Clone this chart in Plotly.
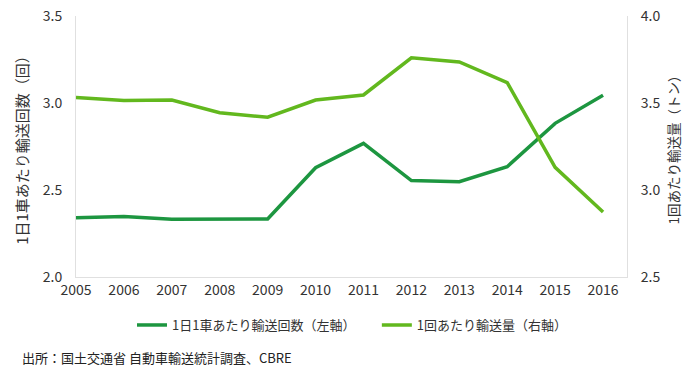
import plotly.graph_objects as go

years = list(range(2005, 2017))
trips_per_day = [2.341, 2.347, 2.332, 2.335, 2.333, 2.628, 2.768, 2.554, 2.548, 2.634, 2.883, 3.044]
tons_per_trip = [3.531, 3.515, 3.517, 3.444, 3.418, 3.517, 3.546, 3.760, 3.736, 3.617, 3.130, 2.874]

name_left = "1日1車あたり輸送回数（左軸）"
name_right = "1回あたり輸送量（右軸）"
title_left = "1日1車あたり輸送回数（回）"
title_right = "1回あたり輸送量（トン）"
source = "出所：国土交通省 自動車輸送統計調査、CBRE"

FONT = "Noto Sans CJK JP"
dark = "#1d9640"
light = "#62b81e"

fig = go.Figure()
fig.add_trace(go.Scatter(x=years, y=trips_per_day, name=name_left, mode="lines",
                         line=dict(color=dark, width=3.5), yaxis="y", legend="legend"))
fig.add_trace(go.Scatter(x=years, y=tons_per_trip, name=name_right, mode="lines",
                         line=dict(color=light, width=3.5), yaxis="y2", legend="legend2"))

leg_common = dict(orientation="h", yanchor="middle", y=-0.184, xanchor="left",
                  font=dict(size=13, color="#333333"), itemwidth=30,
                  bgcolor="rgba(0,0,0,0)")

fig.update_layout(
    width=700, height=374,
    margin=dict(l=76, r=73, t=16, b=97, autoexpand=False),
    paper_bgcolor="white", plot_bgcolor="white",
    font=dict(family=FONT, size=13, color="#333333"),
    showlegend=True,
    legend=dict(x=0.1016, **leg_common),
    legend2=dict(x=0.546, **leg_common),
    xaxis=dict(range=[2005, 2016.5], tickmode="array", tickvals=years,
               ticktext=[str(y) for y in years], showgrid=False, zeroline=False,
               showline=True, linecolor="#e0e0e0", linewidth=1, ticks="",
               automargin=False, tickfont=dict(size=14, color="#333333")),
    yaxis=dict(range=[2.0, 3.5], tickvals=[2.0, 2.5, 3.0, 3.5], tickformat=".1f",
               showgrid=False, zeroline=False, showline=True, linecolor="#e0e0e0",
               linewidth=1, ticks="", ticklabelstandoff=10, automargin=False,
               tickfont=dict(size=14, color="#333333"),
               title=dict(text=title_left, font=dict(size=15, color="#333333"), standoff=10)),
    yaxis2=dict(range=[2.5, 4.0], tickvals=[2.5, 3.0, 3.5, 4.0], tickformat=".1f",
                overlaying="y", side="right", anchor="x",
                showgrid=False, zeroline=False, showline=True, linecolor="#e0e0e0",
                linewidth=1, ticks="", ticklabelstandoff=10, automargin=False,
                tickfont=dict(size=14, color="#333333"),
                title=dict(text=title_right, font=dict(size=13.5, color="#333333"), standoff=10)),
    annotations=[dict(text=source, xref="paper", yref="paper", x=-0.1016, y=-0.307,
                      xanchor="left", yanchor="middle", showarrow=False,
                      font=dict(size=13, color="#222222"))],
)

fig.write_html("out.html", config={"displayModeBar": False},
               post_script="document.body.style.margin='0';")
